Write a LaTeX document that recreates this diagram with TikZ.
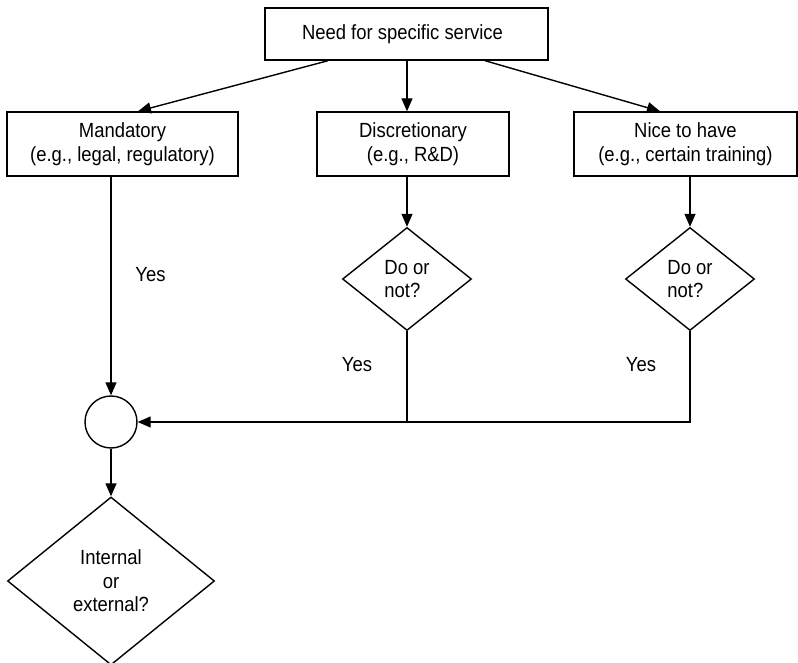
\documentclass[tikz,border=0pt]{standalone}
\usepackage{fontspec}
\setmainfont{Liberation Sans}[FakeStretch=0.9]
\usetikzlibrary{arrows.meta,shapes.geometric}
\begin{document}
\begin{tikzpicture}[x=1pt,y=-1pt,
  line width=1.4pt,
  every node/.style={font=\fontsize{20.5}{23.5}\selectfont, inner sep=0pt},
  >={Triangle[length=13pt,width=11pt]},
  box/.style={draw, rectangle, align=center},
  dec/.style={draw, diamond, align=left, line width=1.4pt},
  junc/.style={draw, circle, minimum size=52pt},
  lbl/.style={anchor=center}]
\useasboundingbox (0,0) rectangle (798,663);
\node[box, minimum width=283pt, minimum height=52pt] (top) at (406.5,34) {Need for specific service\hspace*{8pt}};
\node[box, minimum width=231pt, minimum height=64pt] (mand) at (122.5,144) {Mandatory\\(e.g., legal, regulatory)};
\node[box, minimum width=192pt, minimum height=64pt] (disc) at (413,144) {Discretionary\\(e.g., R\&D)};
\node[box, minimum width=223pt, minimum height=64pt] (nice) at (685.5,144) {Nice to have\\(e.g., certain training)};
\node[dec, minimum width=129pt, minimum height=103pt] (d1) at (407,279) {Do or\\not?};
\node[dec, minimum width=129pt, minimum height=103pt] (d2) at (690,279) {Do or\\not?};
\node[junc] (circ) at (111,422) {};
\node[draw, diamond, align=center, minimum width=207pt, minimum height=168pt] (bd) at (111,581) {Internal\\or\\external?};
\node[lbl] (y1) at (150.5,275) {Yes};
\node[lbl] (y2) at (357,365) {Yes};
\node[lbl] (y3) at (641,365) {Yes};
\draw[->] ([xshift=-78.5pt]top.south) -- ([xshift=15.5pt]mand.north);
\draw[->] ([xshift=0.5pt]top.south) -- ([xshift=0.5pt]top.south |- disc.north);
\draw[->] ([xshift=78.5pt]top.south) -- ([xshift=-25.5pt]nice.north);
\draw[->] (circ.north |- mand.south) -- (circ.north);
\draw[->] (d1.north |- disc.south) -- (d1.north);
\draw[->] (d2.north |- nice.south) -- (d2.north);
\draw (d1.south) -- (d1.south |- circ.east);
\draw[->] (d2.south) |- (circ.east);
\draw[->] (circ.south) -- (bd.north);
\end{tikzpicture}
\end{document}
